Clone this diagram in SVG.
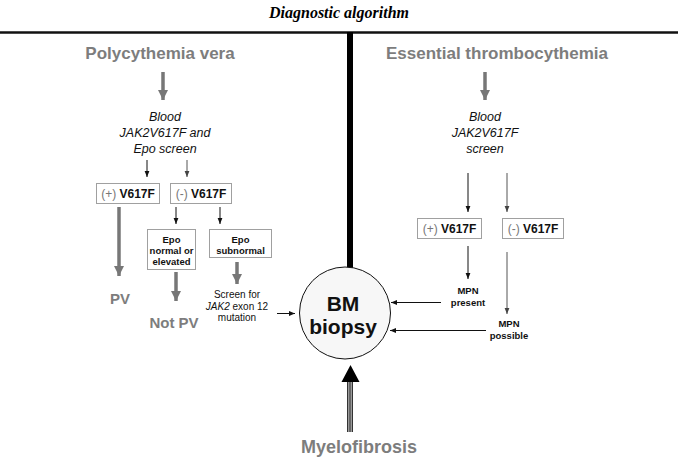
<svg xmlns="http://www.w3.org/2000/svg" width="678" height="460" viewBox="0 0 678 460">
<style>
.t{font-family:"Liberation Sans",Arial,sans-serif;text-anchor:middle}
.g{fill:#7d7d7d;font-weight:bold}
.it{font-style:italic;font-size:12.5px;fill:#111}
.b{font-weight:bold;fill:#111}
.box{fill:#fff;stroke:#a0a0a0;stroke-width:1}
.ga{stroke:#777;stroke-width:3.5;fill:none}
.ka{stroke:#111;stroke-width:1;fill:none}
.kg{stroke:#555;stroke-width:1;fill:none}
</style>
<defs>
<marker id="gh" viewBox="0 0 10 10" refX="10" refY="5" markerWidth="3" markerHeight="3" markerUnits="strokeWidth" orient="auto"><path d="M0,0 L10,5 L0,10 z" fill="#777"/></marker>
<marker id="kh" viewBox="0 0 10 10" refX="10" refY="5" markerWidth="6" markerHeight="6" markerUnits="strokeWidth" orient="auto"><path d="M0,1 L10,5 L0,9 z" fill="#111"/></marker>
<marker id="kgh" viewBox="0 0 10 10" refX="10" refY="5" markerWidth="6" markerHeight="6" markerUnits="strokeWidth" orient="auto"><path d="M0,1 L10,5 L0,9 z" fill="#444"/></marker>
</defs>

<text class="t" x="339" y="18" style="font-family:'Liberation Serif','Times New Roman',serif;font-weight:bold;font-style:italic;font-size:16px">Diagnostic algorithm</text>

<g id="frame">
<line x1="0" y1="32.5" x2="678" y2="32.5" stroke="#111" stroke-width="2.5"/>
<line x1="350" y1="32" x2="350" y2="268" stroke="#000" stroke-width="6"/>
</g>

<g id="connectors">
<line class="ga" x1="163" y1="72" x2="163" y2="100" marker-end="url(#gh)"/>
<line class="ga" x1="485" y1="72" x2="485" y2="100" marker-end="url(#gh)"/>
<line class="ka" x1="147" y1="160" x2="147" y2="177" marker-end="url(#kh)"/>
<line class="kg" x1="187" y1="160" x2="187" y2="177" marker-end="url(#kgh)"/>
<line class="ga" x1="119" y1="207" x2="119" y2="276" marker-end="url(#gh)"/>
<line class="ka" x1="176" y1="207" x2="176" y2="224" marker-end="url(#kh)"/>
<line class="ka" x1="220" y1="207" x2="220" y2="224" marker-end="url(#kh)"/>
<line class="ga" x1="176" y1="272" x2="176" y2="301" marker-end="url(#gh)"/>
<line class="ga" x1="237" y1="262" x2="237" y2="284" marker-end="url(#gh)"/>
<line class="ka" x1="277" y1="313.5" x2="295" y2="313.5" marker-end="url(#kh)"/>
<line class="ka" x1="468" y1="173" x2="468" y2="212" marker-end="url(#kh)"/>
<line class="kg" x1="507" y1="173" x2="507" y2="212" marker-end="url(#kgh)"/>
<line class="ka" x1="468" y1="246" x2="468" y2="279" marker-end="url(#kh)"/>
<line class="kg" x1="507" y1="252" x2="507" y2="314" marker-end="url(#kgh)"/>
<line class="ka" x1="441" y1="302.5" x2="391" y2="302.5" marker-end="url(#kh)"/>
<line class="ka" x1="486" y1="330.5" x2="390" y2="330.5" marker-end="url(#kh)"/>
<g id="mf-arrow">
<rect x="347" y="381" width="6" height="51" fill="#b5b5b5"/>
<line x1="347.6" y1="381" x2="347.6" y2="432" stroke="#333" stroke-width="1.2"/>
<line x1="350" y1="381" x2="350" y2="432" stroke="#333" stroke-width="1.2"/>
<line x1="352.4" y1="381" x2="352.4" y2="432" stroke="#333" stroke-width="1.2"/>
<path d="M341.5,382 L350.5,365 L359.5,382 z" fill="#000"/>
</g>
</g>

<g id="pv-title"><text class="t g" x="160" y="59" font-size="17">Polycythemia vera</text></g>
<g id="et-title"><text class="t g" x="497" y="59" font-size="17">Essential thrombocythemia</text></g>

<g id="pv-screen">
<text class="t it" x="165" y="121">Blood</text>
<text class="t it" x="165" y="137">JAK2V617F and</text>
<text class="t it" x="165" y="153">Epo screen</text>
</g>
<g id="et-screen">
<text class="t it" x="485" y="121">Blood</text>
<text class="t it" x="485" y="137">JAK2V617F</text>
<text class="t it" x="485" y="153">screen</text>
</g>

<g id="pv-pos">
<rect class="box" x="96.5" y="183.5" width="63" height="20"/>
<text class="t" x="128" y="198" font-size="12"><tspan fill="#777">(+) </tspan><tspan class="b">V617F</tspan></text>
</g>
<g id="pv-neg">
<rect class="box" x="170.5" y="183.5" width="61" height="20"/>
<text class="t" x="201" y="198" font-size="12"><tspan fill="#777">(-) </tspan><tspan class="b">V617F</tspan></text>
</g>

<g id="epo-normal">
<rect class="box" x="147.5" y="229.5" width="48" height="40"/>
<text class="t b" x="171.5" y="243" font-size="9.5">Epo</text>
<text class="t b" x="171.5" y="254" font-size="9.5">normal or</text>
<text class="t b" x="171.5" y="265" font-size="9.5">elevated</text>
</g>
<g id="epo-sub">
<rect class="box" x="209.5" y="229.5" width="62" height="28"/>
<text class="t b" x="240.5" y="243" font-size="9.5">Epo</text>
<text class="t b" x="240.5" y="254" font-size="9.5">subnormal</text>
</g>

<g id="pv"><text class="t g" x="120" y="304" font-size="15">PV</text></g>
<g id="not-pv"><text class="t g" x="174" y="328" font-size="15">Not PV</text></g>

<g id="exon12" class="t" font-size="10" fill="#111">
<text x="237" y="298">Screen for</text>
<text x="237" y="309.5"><tspan font-style="italic">JAK2</tspan> exon 12</text>
<text x="237" y="321">mutation</text>
</g>

<g id="et-pos">
<rect class="box" x="417.5" y="218.5" width="64" height="20"/>
<text class="t" x="449.5" y="233" font-size="12"><tspan fill="#777">(+) </tspan><tspan class="b">V617F</tspan></text>
</g>
<g id="et-neg">
<rect class="box" x="502.5" y="218.5" width="61" height="20"/>
<text class="t" x="533" y="233" font-size="12"><tspan fill="#777">(-) </tspan><tspan class="b">V617F</tspan></text>
</g>

<g id="mpn-present">
<text class="t b" x="468" y="294" font-size="9.5">MPN</text>
<text class="t b" x="468" y="305.5" font-size="9.5">present</text>
</g>
<g id="mpn-possible">
<text class="t b" x="509" y="327" font-size="9.5">MPN</text>
<text class="t b" x="509" y="338.5" font-size="9.5">possible</text>
</g>

<g id="bm-biopsy">
<ellipse cx="345" cy="313" rx="45.5" ry="46" fill="#f7f7f7" stroke="#111" stroke-width="1"/>
<text class="t b" x="343" y="311" font-size="21">BM</text>
<text class="t b" x="343" y="334" font-size="21">biopsy</text>
</g>

<g id="myelofibrosis"><text class="t g" x="359" y="453" font-size="18">Myelofibrosis</text></g>
</svg>
